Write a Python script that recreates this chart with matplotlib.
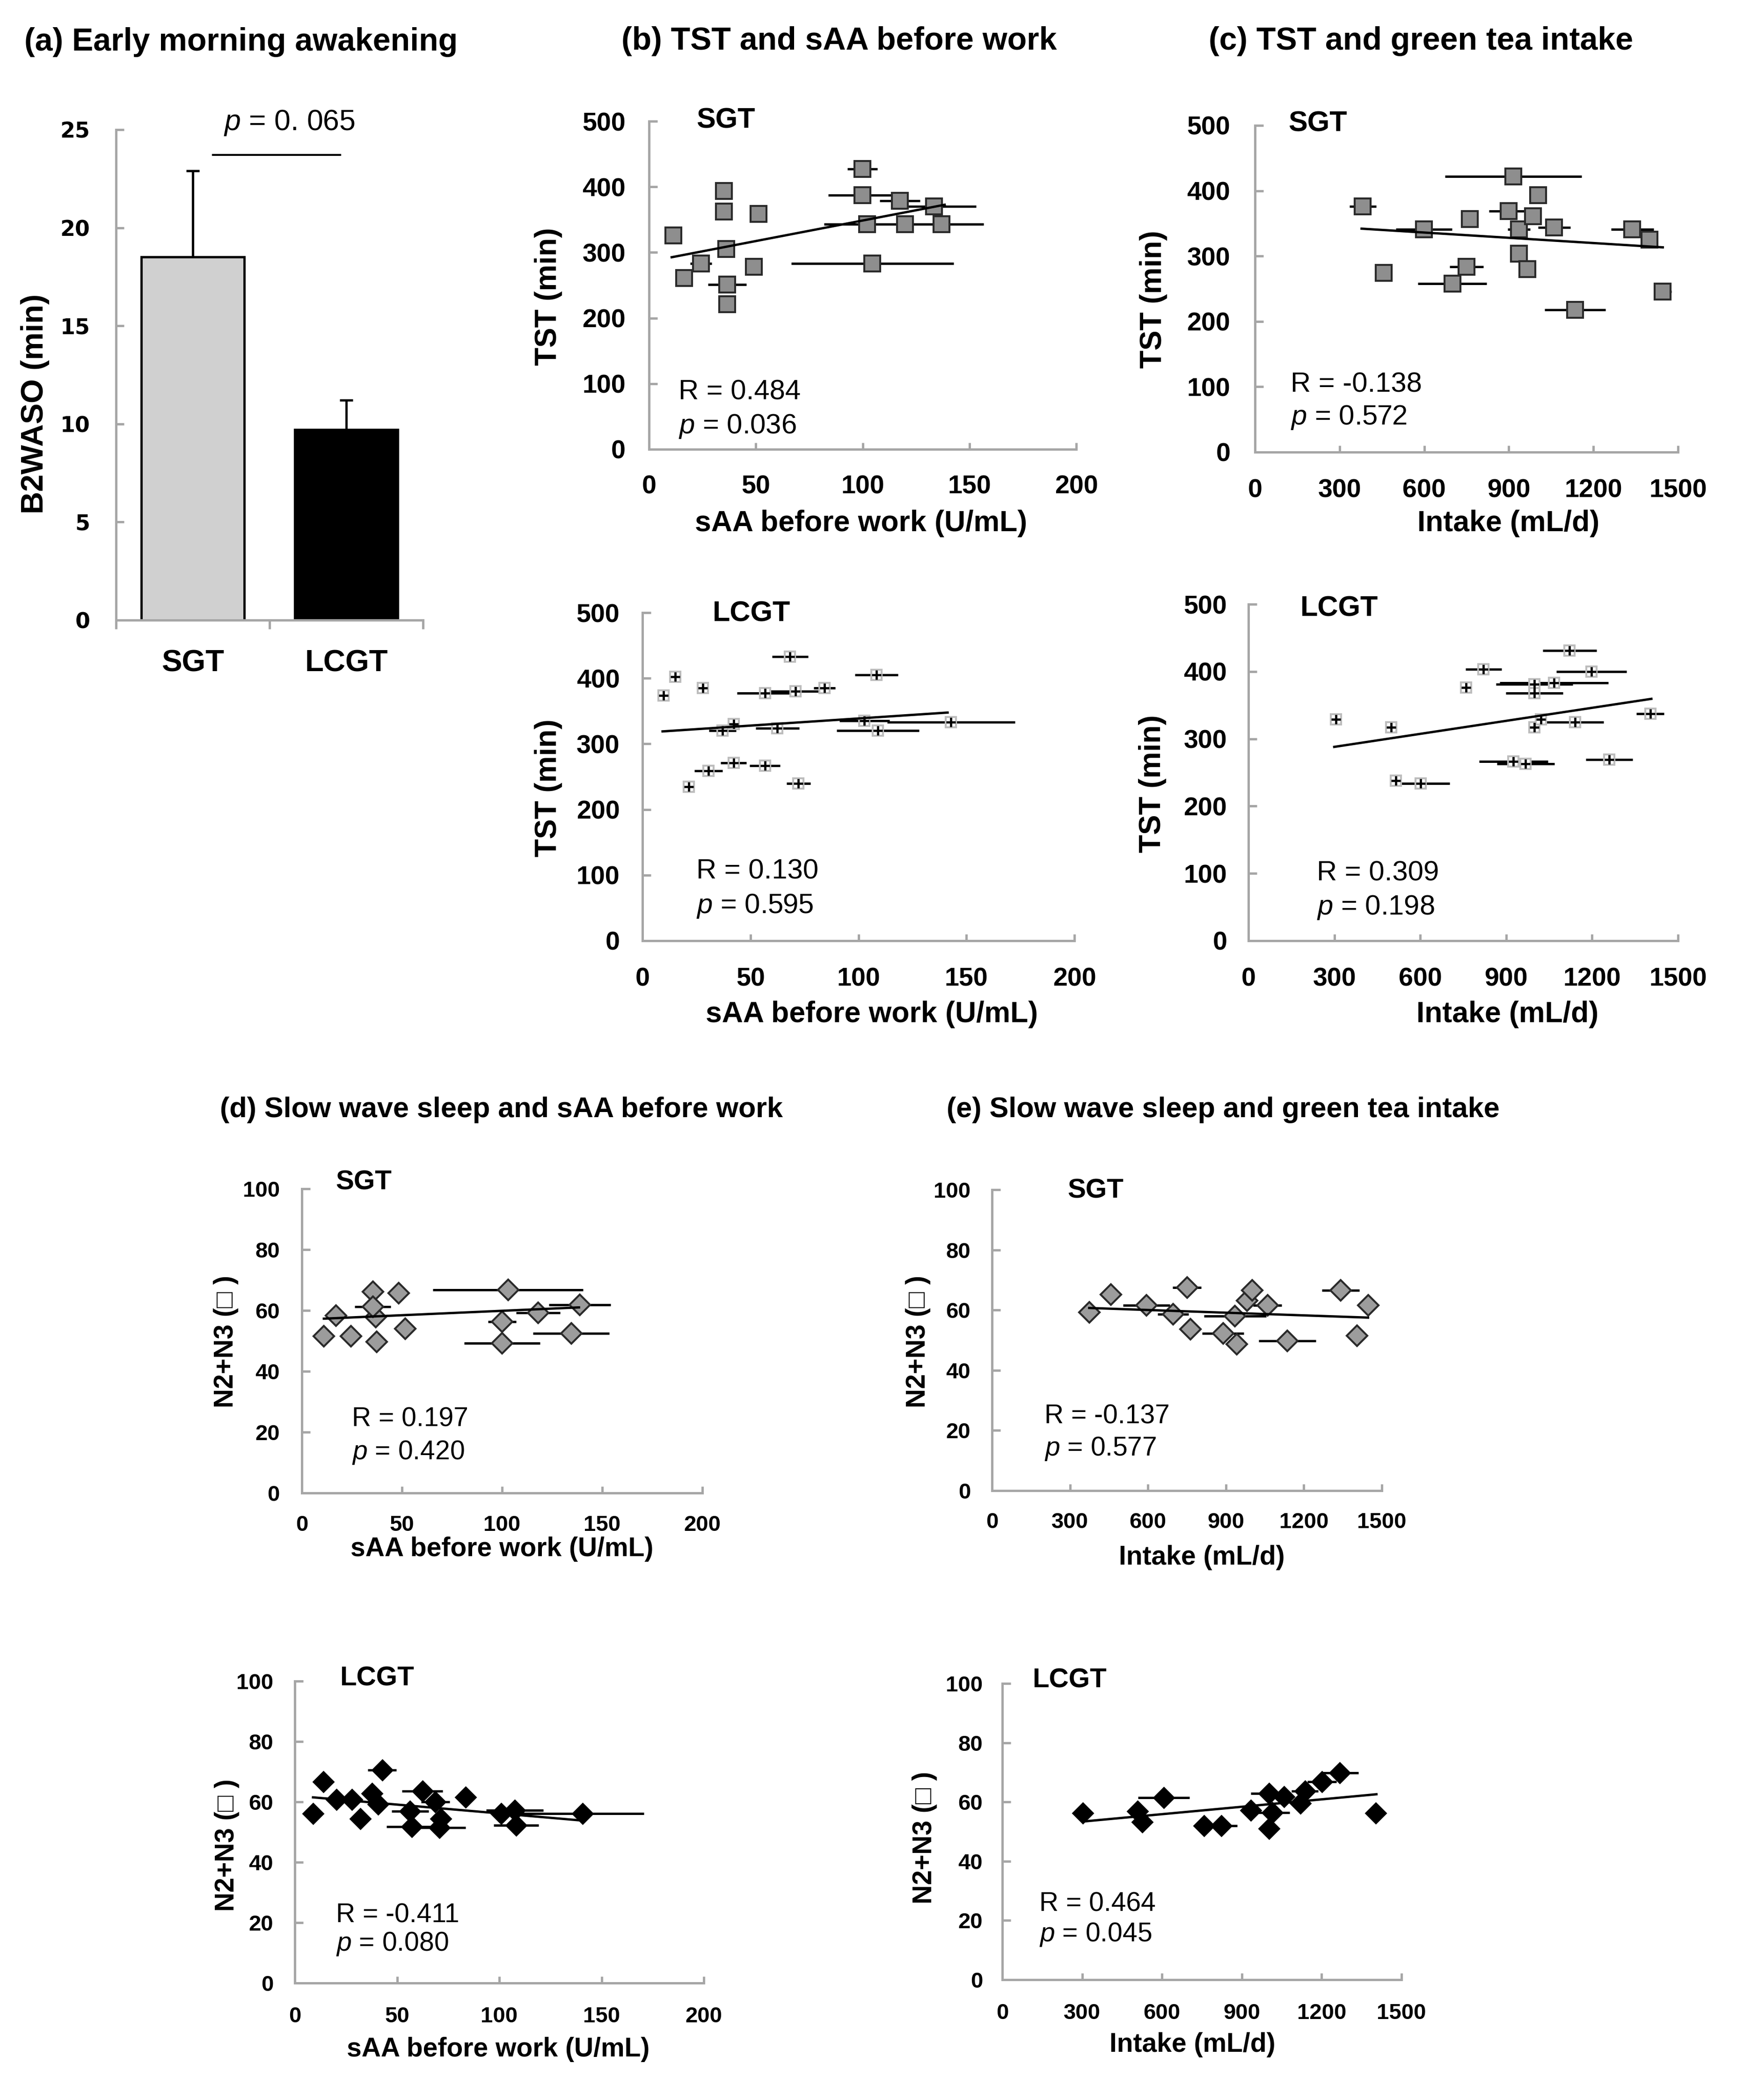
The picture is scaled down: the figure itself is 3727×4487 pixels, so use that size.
import matplotlib
matplotlib.use('Agg')
import matplotlib.pyplot as plt

W, H = 3727, 4487

# ---------------- data ----------------
# (a) early morning awakening
a_groups = ['SGT', 'LCGT']
a_means = [18.5, 9.7]
a_sem = [4.4, 1.5]

# (b) TST vs sAA before work, SGT
b_sgt_x = [11.5, 16.4, 24.3, 35, 35, 36.2, 36.6, 36.6, 49, 51.3, 99.8, 99.8, 102, 119.8, 137, 117.4, 133.5, 104.5]
b_sgt_y = [326, 261, 283, 394, 362, 305, 251, 221, 278, 359, 427, 387, 343, 343, 343, 379, 370, 283]
b_sgt_xerr = [0, 0, 5, 0, 0, 0, 9, 0, 0, 0, 7, 16, 20, 0, 19.6, 9.5, 19.6, 38]
b_sgt_fit_x = [10.6, 138.4]
b_sgt_fit_y = [292.7, 372.7]

# (b) TST vs sAA before work, LCGT
b_lcgt_x = [9.7, 15.1, 21.5, 28, 30.6, 37, 42.2, 42.2, 56.7, 56.7, 62.5, 68.3, 70.9, 72.2, 84.2, 102.8, 108.4, 109, 142.9]
b_lcgt_y = [374, 402, 235, 385, 259, 320, 330, 271, 377, 267, 324, 433, 380, 240, 385, 335, 405, 320, 333]
b_lcgt_xerr = [0, 0, 0, 0, 6.5, 6.3, 0, 6, 13, 7, 10, 8.3, 14, 5.5, 5, 11.6, 10, 19, 29.5]
b_lcgt_fit_x = [9.3, 141.3]
b_lcgt_fit_y = [319, 347.7]

# (c) TST vs green tea intake, SGT
c_sgt_x = [382, 457, 599, 700, 750, 761, 899, 916, 936, 936, 966, 986, 1004, 1061, 1135, 1338, 1399, 1446]
c_sgt_y = [376, 274, 341, 258, 284, 357, 369, 422, 341, 304, 280, 361, 393, 344, 218, 341, 325, 246]
c_sgt_xerr = [47, 0, 100, 122, 59, 0, 70, 243, 40, 0, 0, 0, 0, 57, 108, 76, 0, 30]
c_sgt_fit_x = [378, 1446]
c_sgt_fit_y = [342, 313.4]

# (c) TST vs green tea intake, LCGT
c_lcgt_x = [305, 498, 515, 602, 759, 821, 925, 968, 998, 998, 998, 1021, 1067, 1121, 1141, 1198, 1260, 1403]
c_lcgt_y = [329, 317, 238, 234, 376, 403, 266, 263, 381, 368, 317, 329, 383, 431, 325, 400, 269, 337]
c_lcgt_xerr = [0, 0, 0, 100, 0, 63, 120, 100, 134, 100, 0, 0, 190, 94, 100, 123, 82, 48]
c_lcgt_fit_x = [299.5, 1407]
c_lcgt_fit_y = [288, 359.4]

# (d) N2+N3 vs sAA before work, SGT
d_sgt_x = [11, 17, 24.6, 35.4, 36.8, 35.4, 37.4, 48.4, 51.7, 100, 100, 103, 118, 134.5, 138.8]
d_sgt_y = [51.6, 58.3, 51.6, 66.2, 57.8, 61.3, 49.7, 65.7, 54, 56.3, 49.2, 66.7, 59.2, 52.4, 61.9]
d_sgt_xerr = [0, 0, 3, 0, 0, 9, 0, 0, 0, 7, 19, 37.5, 11, 19, 15.5]
d_sgt_fit_x = [11, 138.4]
d_sgt_fit_y = [57.3, 61]

# (d) N2+N3 vs sAA before work, LCGT
d_lcgt_x = [8.9, 14, 20.3, 27.9, 32, 37.8, 40.8, 42.7, 56.4, 57.3, 62.4, 68.7, 70.6, 71.5, 83.5, 101, 107.6, 108.2, 140.8]
d_lcgt_y = [56.2, 66.7, 60.7, 60.7, 54.4, 62.8, 59.3, 70.5, 56.9, 51.8, 63.6, 60, 51.5, 54.4, 61.5, 56.2, 57.2, 52.3, 56.2]
d_lcgt_xerr = [0, 0, 0, 0, 3, 0, 0, 7, 9, 12.5, 10, 7, 13, 0, 0, 0, 14, 11, 30]
d_lcgt_fit_x = [8.9, 140.8]
d_lcgt_fit_y = [61.5, 53.8]

# (e) N2+N3 vs green tea intake, SGT
e_sgt_x = [374, 457, 594, 697, 750, 763, 889, 935, 941, 981, 1001, 1060, 1136, 1342, 1404, 1447]
e_sgt_y = [59.3, 65.1, 61.6, 58.6, 67.5, 53.7, 52.3, 58, 48.7, 63.2, 66.5, 61.6, 49.8, 66.5, 51.5, 61.6]
e_sgt_xerr = [0, 0, 90, 60, 55, 0, 80, 120, 0, 0, 0, 55, 110, 72, 0, 0]
e_sgt_fit_x = [374, 1447]
e_sgt_fit_y = [60.7, 57.5]

# (e) N2+N3 vs green tea intake, LCGT
e_lcgt_x = [303, 509, 526, 607, 758, 823, 933, 1003, 1003, 1014, 1058, 1120, 1137, 1201, 1268, 1403]
e_lcgt_y = [56.2, 56.9, 53.2, 61.4, 52, 52, 57.2, 62.8, 51.1, 56.4, 61.8, 59.5, 63.7, 66.8, 69.9, 56.2]
e_lcgt_xerr = [0, 0, 0, 97, 0, 60, 0, 70, 0, 65, 0, 0, 50, 55, 70, 0]
e_lcgt_fit_x = [303, 1406]
e_lcgt_fit_y = [53.4, 62.6]

saa_ticks = [0, 50, 100, 150, 200]
intake_ticks = [0, 300, 600, 900, 1200, 1500]
tst_ticks = [0, 100, 200, 300, 400, 500]
n23_ticks = [0, 20, 40, 60, 80, 100]

# ---------------- drawing ----------------
plt.rcParams['font.family'] = ['Liberation Sans', 'DejaVu Sans']
plt.rcParams['mathtext.fontset'] = 'custom'
plt.rcParams['mathtext.rm'] = 'Liberation Sans'
plt.rcParams['mathtext.it'] = 'Liberation Sans:italic'

AXC = '#a6a6a6'
fig = plt.figure(figsize=(W / 100, H / 100), dpi=100)


def rect(l, t, r, b):
    return [l / W, 1 - b / H, (r - l) / W, (b - t) / H]


def put(x, y, s, **kw):
    fig.text(x / W, 1 - y / H, s, **kw)


def clean(ax):
    for s in ['top', 'right']:
        ax.spines[s].set_visible(False)
    for s in ['left', 'bottom']:
        ax.spines[s].set_color(AXC)
        ax.spines[s].set_linewidth(3.6)


# (a) bar chart
ax = fig.add_axes(rect(248, 277, 904, 1325))
clean(ax)
ax.bar([0, 1], a_means, width=0.67, color=['#d0d0d0', 'black'], edgecolor='black', linewidth=3.6, zorder=2)
ax.errorbar([0, 1], a_means, yerr=[[0, 0], a_sem], fmt='none', ecolor='black',
            elinewidth=3.6, capsize=10, capthick=3.6, zorder=3)
ax.set_xlim(-0.5, 1.5)
ax.set_ylim(0, 25)
ax.set_yticks([0, 5, 10, 15, 20, 25])
ax.set_yticklabels(['0', '5', '10', '15', '20', '25'], fontfamily='DejaVu Sans',
                   fontweight='bold', fontsize=33)
ax.set_xticks([0, 1])
ax.set_xticklabels(a_groups, fontsize=47, fontweight='bold')
ax.set_xticks([-0.5, 0.5, 1.5], minor=True)
ax.tick_params(axis='x', which='major', length=0, pad=45)
ax.tick_params(axis='x', which='minor', direction='out', length=14, width=3.6, color=AXC)
ax.tick_params(axis='y', direction='in', length=12, width=3.6, color=AXC, pad=40)
ax.plot([0.13, 0.96], [23.7, 23.7], color='black', lw=3, clip_on=False)
ax.text(0.63, 25.35, '$p$ = 0. 065', fontsize=45, ha='center', va='center')
put(75, 863, 'B2WASO (min)', fontsize=48, fontweight='bold', rotation=90, ha='center', va='center')

# styles of markers
sq_gray = dict(marker='s', ms=25, mfc='#8e8e8e', mec='#2a2a2a', mew=3)
dia_gray = dict(marker='D', ms=22, mfc='#9c9c9c', mec='#2a2a2a', mew=3)
dia_black = dict(marker='D', ms=22, mfc='black', mec='black', mew=2)


def scatter_panel(box, x, y, xerr, fit_x, fit_y, style, xticks, yticks,
                  group, group_xy, r_text, p_text, r_xy, fs_tick, fs_txt, pads):
    ax = fig.add_axes(rect(*box))
    clean(ax)
    ax.set_xlim(xticks[0], xticks[-1])
    ax.set_ylim(yticks[0], yticks[-1])
    ax.set_xticks(xticks)
    ax.set_yticks(yticks)
    ax.tick_params(axis='y', direction='in', length=13, width=3.6, color=AXC,
                   labelsize=fs_tick, pad=pads[0])
    ax.tick_params(axis='x', direction='in', length=10, width=3.6, color=AXC,
                   labelsize=fs_tick, pad=pads[1])
    for lab in ax.get_xticklabels() + ax.get_yticklabels():
        lab.set_fontweight('bold')
    ax.errorbar(x, y, xerr=xerr, fmt='none', ecolor='black', elinewidth=3.6,
                capsize=0, zorder=2, clip_on=False)
    if style == 'small':
        ax.plot(x, y, ls='none', marker='s', ms=16, mfc='white', mec='#bdbdbd', mew=3, zorder=3, clip_on=False)
        ax.plot(x, y, ls='none', marker='+', ms=15, mec='black', mew=3.4, zorder=4, clip_on=False)
    else:
        ax.plot(x, y, ls='none', zorder=3, clip_on=False, **style)
    ax.plot(fit_x, fit_y, color='black', lw=3.6, zorder=5)
    put(group_xy[0], group_xy[1], group, fontsize=fs_txt + 1, fontweight='bold', ha='center', va='center')
    put(r_xy[0], r_xy[1], r_text, fontsize=fs_txt, ha='left', va='center')
    put(r_xy[0], r_xy[2], p_text, fontsize=fs_txt, ha='left', va='center')
    return ax


scatter_panel((1387, 259, 2300, 960), b_sgt_x, b_sgt_y, b_sgt_xerr, b_sgt_fit_x, b_sgt_fit_y,
              sq_gray, saa_ticks, tst_ticks, 'SGT', (1551, 258), 'R = 0.484', '$p$ = 0.036',
              (1450, 838, 911), 40, 43, (36, 39))
scatter_panel((2682, 268, 3586, 966), c_sgt_x, c_sgt_y, c_sgt_xerr, c_sgt_fit_x, c_sgt_fit_y,
              sq_gray, intake_ticks, tst_ticks, 'SGT', (2816, 265), 'R = -0.138', '$p$ = 0.572',
              (2758, 822, 892), 40, 43, (38, 41))
scatter_panel((1373, 1309, 2296, 2010), b_lcgt_x, b_lcgt_y, b_lcgt_xerr, b_lcgt_fit_x, b_lcgt_fit_y,
              'small', saa_ticks, tst_ticks, 'LCGT', (1606, 1312), 'R = 0.130', '$p$ = 0.595',
              (1488, 1862, 1936), 40, 43, (35, 41))
scatter_panel((2668, 1291, 3586, 2010), c_lcgt_x, c_lcgt_y, c_lcgt_xerr, c_lcgt_fit_x, c_lcgt_fit_y,
              'small', intake_ticks, tst_ticks, 'LCGT', (2862, 1301), 'R = 0.309', '$p$ = 0.198',
              (2814, 1866, 1939), 40, 43, (33, 41))
scatter_panel((645, 2540, 1501, 3190), d_sgt_x, d_sgt_y, d_sgt_xerr, d_sgt_fit_x, d_sgt_fit_y,
              dia_gray, saa_ticks, n23_ticks, 'SGT', (777, 2526), 'R = 0.197', '$p$ = 0.420',
              (752, 3033, 3103), 34, 41, (34, 34))
scatter_panel((2120, 2542, 2953, 3185), e_sgt_x, e_sgt_y, e_sgt_xerr, e_sgt_fit_x, e_sgt_fit_y,
              dia_gray, intake_ticks, n23_ticks, 'SGT', (2341, 2544), 'R = -0.137', '$p$ = 0.577',
              (2232, 3027, 3096), 34, 41, (33, 33))
scatter_panel((630, 3592, 1504, 4237), d_lcgt_x, d_lcgt_y, d_lcgt_xerr, d_lcgt_fit_x, d_lcgt_fit_y,
              dia_black, saa_ticks, n23_ticks, 'LCGT', (805, 3587), 'R = -0.411', '$p$ = 0.080',
              (718, 4092, 4154), 34, 41, (33, 36))
scatter_panel((2142, 3597, 2995, 4230), e_lcgt_x, e_lcgt_y, e_lcgt_xerr, e_lcgt_fit_x, e_lcgt_fit_y,
              dia_black, intake_ticks, n23_ticks, 'LCGT', (2286, 3590), 'R = 0.464', '$p$ = 0.045',
              (2221, 4068, 4134), 34, 41, (30, 36))

# axis labels
for x, y in [(1172, 634), (2465, 640), (1172, 1684), (2463, 1675)]:
    put(x, y, 'TST (min)', fontsize=46, fontweight='bold', rotation=90, ha='center', va='center')
for x, y in [(483, 2866), (1962, 2866), (485, 3943), (1976, 3926)]:
    put(x, y, 'N2+N3 (\u25a1 )', fontsize=41, fontweight='bold', rotation=90, ha='center', va='center')
for x, y, s, fs in [(1840, 1119, 'sAA before work (U/mL)', 45), (3224, 1118, 'Intake (mL/d)', 45),
                    (1863, 2168, 'sAA before work (U/mL)', 45), (3222, 2168, 'Intake (mL/d)', 45),
                    (1073, 3310, 'sAA before work (U/mL)', 41), (2568, 3328, 'Intake (mL/d)', 41),
                    (1065, 4379, 'sAA before work (U/mL)', 41), (2548, 4369, 'Intake (mL/d)', 41)]:
    put(x, y, s, fontsize=fs, fontweight='bold', ha='center', va='center')

# panel titles
put(52, 90, '(a) Early morning awakening', fontsize=49, fontweight='bold', ha='left', va='center')
put(1793, 88, '(b) TST and sAA before work', fontsize=49, fontweight='bold', ha='center', va='center')
put(3037, 88, '(c) TST and green tea intake', fontsize=49, fontweight='bold', ha='center', va='center')
put(470, 2372, '(d) Slow wave sleep and sAA before work', fontsize=44, fontweight='bold', ha='left', va='center')
put(2023, 2372, '(e) Slow wave sleep and green tea intake', fontsize=44, fontweight='bold', ha='left', va='center')

fig.savefig('out.png', dpi=100, facecolor='white')
